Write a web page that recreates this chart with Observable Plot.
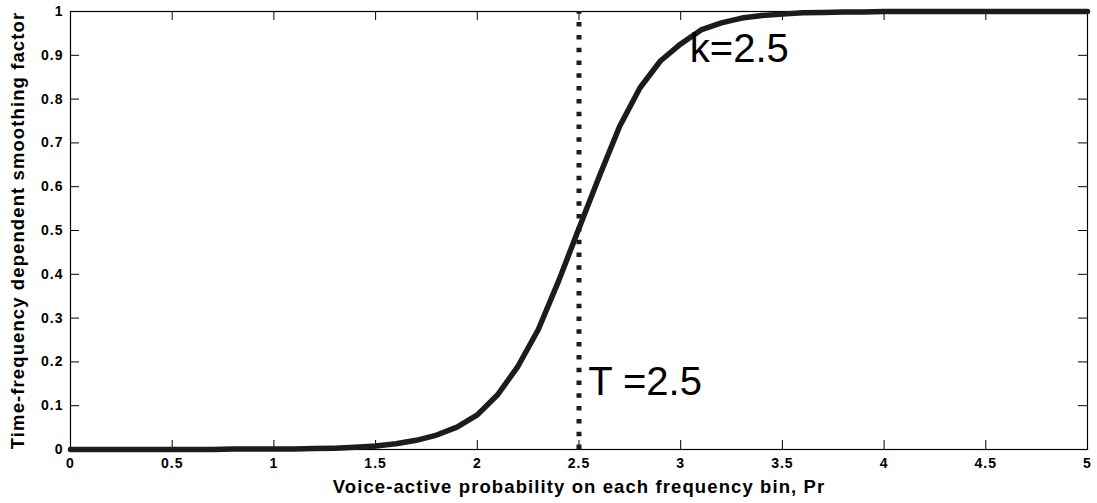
<!DOCTYPE html>
<html>
<head>
<meta charset="utf-8">
<script src="https://cdn.jsdelivr.net/npm/d3@7"></script>
<script src="https://cdn.jsdelivr.net/npm/@observablehq/plot@0.6"></script>
<style>
  html, body { margin: 0; padding: 0; background: #fff; }
  #chart svg { display: block; }
</style>
</head>
<body>
<div id="chart"></div>
<script>
// Smoothing factor versus voice-active probability, sampled every 0.1
const pr = [
  0.0, 0.1, 0.2, 0.3, 0.4, 0.5, 0.6, 0.7, 0.8, 0.9,
  1.0, 1.1, 1.2, 1.3, 1.4, 1.5, 1.6, 1.7, 1.8, 1.9,
  2.0, 2.1, 2.2, 2.3, 2.4, 2.5, 2.6, 2.7, 2.8, 2.9,
  3.0, 3.1, 3.2, 3.3, 3.4, 3.5, 3.6, 3.7, 3.8, 3.9,
  4.0, 4.1, 4.2, 4.3, 4.4, 4.5, 4.6, 4.7, 4.8, 4.9, 5.0
];
const factor = [
  0.000, 0.000, 0.000, 0.000, 0.000, 0.000, 0.000, 0.000, 0.001, 0.001,
  0.001, 0.001, 0.002, 0.003, 0.005, 0.008, 0.013, 0.021, 0.033, 0.051,
  0.079, 0.125, 0.190, 0.274, 0.385, 0.505, 0.624, 0.738, 0.826, 0.887,
  0.926, 0.958, 0.974, 0.985, 0.991, 0.994, 0.997, 0.998, 0.999, 0.999,
  1.000, 1.000, 1.000, 1.000, 1.000, 1.000, 1.000, 1.000, 1.000, 1.000, 1.000
];

// Threshold marker and annotations
const threshold = [2.5];
const notes = ["k=2.5", "T =2.5"];
const noteX = [3.045, 2.545];
const noteY = [0.913, 0.154];

// Axis ticks and their labels
const xTicks = [0, 0.5, 1, 1.5, 2, 2.5, 3, 3.5, 4, 4.5, 5];
const xTickLabels = ["0", "0.5", "1", "1.5", "2", "2.5", "3", "3.5", "4", "4.5", "5"];
const yTicks = [0, 0.1, 0.2, 0.3, 0.4, 0.5, 0.6, 0.7, 0.8, 0.9, 1];
const yTickLabels = ["0", "0.1", "0.2", "0.3", "0.4", "0.5", "0.6", "0.7", "0.8", "0.9", "1"];

const xTitle = "Voice-active probability on each frequency bin, Pr";
const yTitle = "Time-frequency dependent smoothing factor";

const curve = pr.map((x, i) => ({x, y: factor[i]}));
const labels = notes.map((t, i) => ({t, x: noteX[i], y: noteY[i]}));

const W = 1097, H = 503;
const mL = 70, mR = 10, mT = 11, mB = 54;
const plotW = W - mL - mR, plotH = H - mT - mB;
const tick = 9;
const font = "'Liberation Sans', Arial, Helvetica, sans-serif";

const chart = Plot.plot({
  width: W,
  height: H,
  marginLeft: mL,
  marginRight: mR,
  marginTop: mT,
  marginBottom: mB,
  style: {fontFamily: font, background: "#fff", color: "#000"},
  x: {domain: [0, 5]},
  y: {domain: [0, 1]},
  marks: [
    // tick labels
    Plot.axisX(xTicks, {
      anchor: "bottom", tickSize: 0, tickPadding: 9,
      tickFormat: d => xTickLabels[xTicks.indexOf(d)],
      fontSize: 14, fontWeight: "bold", label: null
    }),
    Plot.axisY(yTicks, {
      anchor: "left", tickSize: 0, tickPadding: 7,
      tickFormat: d => yTickLabels[yTicks.indexOf(d)],
      fontSize: 14, fontWeight: "bold", label: null
    }),
    // inward tick marks on all four sides
    Plot.tickX(xTicks, {x: d => d, insetTop: plotH - tick, stroke: "#000", strokeWidth: 1}),
    Plot.tickX(xTicks, {x: d => d, insetBottom: plotH - tick, stroke: "#000", strokeWidth: 1}),
    Plot.tickY(yTicks, {y: d => d, insetRight: plotW - tick, stroke: "#000", strokeWidth: 1}),
    Plot.tickY(yTicks, {y: d => d, insetLeft: plotW - tick, stroke: "#000", strokeWidth: 1}),
    Plot.frame({stroke: "#000", strokeWidth: 1.2}),
    // sigmoid curve
    Plot.line(curve, {x: "x", y: "y", stroke: "#1c1c1c", strokeWidth: 5.5, strokeLinejoin: "round"}),
    // dotted threshold line
    Plot.ruleX(threshold, {x: d => d, y1: 0, y2: 1, stroke: "#1c1c1c", strokeWidth: 5, strokeDasharray: "4.5,8.3"}),
    // annotations
    Plot.text(labels, {
      x: "x", y: "y", text: "t", textAnchor: "start", lineAnchor: "middle",
      fontSize: 40, fill: "#000"
    }),
    // axis titles
    Plot.text([xTitle], {
      text: d => d, frameAnchor: "bottom", dy: 38, textAnchor: "middle", lineAnchor: "middle",
      fontSize: 18.5, fontWeight: "bold", fill: "#000"
    }),
    Plot.text([yTitle], {
      text: d => d, frameAnchor: "left", dx: -52, rotate: -90, textAnchor: "middle", lineAnchor: "middle",
      fontSize: 18.5, fontWeight: "bold", fill: "#000"
    })
  ]
});

// MATLAB-style wide letter spacing on the axis texts
d3.select(chart).selectAll("g[aria-label='x-axis tick label'] text, g[aria-label='y-axis tick label'] text")
  .style("letter-spacing", "1px");
d3.select(chart).selectAll("g[aria-label='text'] text")
  .filter(function() { return this.textContent === xTitle || this.textContent === yTitle; })
  .style("letter-spacing", "1.1px");

document.getElementById("chart").appendChild(chart);
</script>
</body>
</html>
